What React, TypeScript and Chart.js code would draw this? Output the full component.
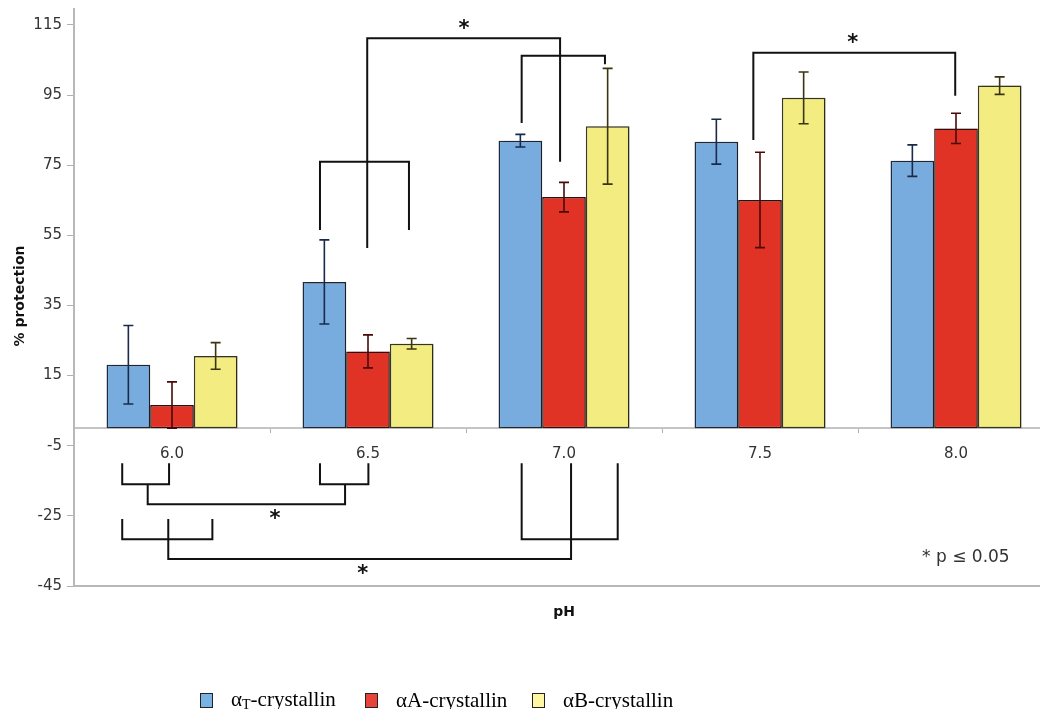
import React, { useEffect, useRef } from 'react';
import { Chart, registerables } from 'chart.js';

Chart.register(...registerables);

// ---- data ----
const categories = ['6.0', '6.5', '7.0', '7.5', '8.0'];
const seriesNames = ['αT-crystallin', 'αA-crystallin', 'αB-crystallin'];
const alphaT = [18.1, 41.7, 82.0, 81.7, 76.3];
const alphaTErr = [11.2, 12.0, 1.8, 6.4, 4.5];
const alphaA = [6.6, 21.9, 65.9, 65.1, 85.5];
const alphaAErr = [6.6, 4.7, 4.2, 13.6, 4.3];
const alphaB = [20.6, 24.1, 86.1, 94.2, 97.7];
const alphaBErr = [3.8, 1.5, 16.5, 7.4, 2.5];
const yTicks = [-45, -25, -5, 15, 35, 55, 75, 95, 115];

// significance brackets: polylines of [category position, % protection]
const brackets: [number, number][][] = [
  [[0.755, 56.5], [0.755, 76.0], [1.209, 76.0], [1.209, 56.5]],
  [[0.996, 51.4], [0.996, 111.2], [1.98, 111.2], [1.98, 76.0]],
  [[1.784, 87.0], [1.784, 106.2], [2.209, 106.2], [2.209, 103.8]],
  [[2.966, 82.2], [2.966, 107.1], [3.996, 107.1], [3.996, 94.8]],
  [[-0.254, -10.0], [-0.254, -16.0], [-0.015, -16.0], [-0.015, -10.0]],
  [[0.755, -10.0], [0.755, -16.0], [1.002, -16.0], [1.002, -10.0]],
  [[-0.124, -16.0], [-0.124, -21.7], [0.883, -21.7], [0.883, -16.0]],
  [[-0.254, -25.9], [-0.254, -31.7], [0.206, -31.7], [0.206, -25.9]],
  [[-0.019, -25.9], [-0.019, -37.3], [2.036, -37.3], [2.036, -10.0]],
  [[1.784, -10.0], [1.784, -31.7], [2.274, -31.7], [2.274, -10.0]],
];
const stars: [number, number][] = [
  [1.49, 113.7],
  [3.473, 109.6],
  [0.526, -26.1],
  [0.973, -41.6],
];
const noteText = '* p ≤ 0.05';
const notePos: [number, number] = [3.827, -37.0];

const seriesValues = [alphaT, alphaA, alphaB];
const seriesErrors = [alphaTErr, alphaAErr, alphaBErr];
const fills = ['#78acde', '#e03325', '#f3ec80'];
const borders = ['#1e2b3c', '#3a0d0a', '#3b3820'];
const errColors = ['#1a2a4a', '#4a0a0a', '#3a3510'];
const legendFills = ['#7ab2e4', '#e8433b', '#fff7a3'];

const overlay = {
  id: 'overlay',
  beforeDatasetsDraw(chart: any) {
    const { ctx, chartArea } = chart;
    ctx.save();
    ctx.strokeStyle = '#b8b8b8';
    ctx.lineWidth = 2;
    ctx.beginPath();
    ctx.moveTo(chartArea.left, chartArea.top);
    ctx.lineTo(chartArea.right, chartArea.top);
    ctx.stroke();
    ctx.restore();
    ctx.save();
    ctx.shadowColor = 'rgba(0,0,0,0.22)';
    ctx.shadowOffsetX = 3;
    ctx.shadowOffsetY = 0;
    ctx.shadowBlur = 2;
  },
  afterDatasetsDraw(chart: any) {
    const ctx = chart.ctx;
    ctx.restore();
    const xs = chart.scales.x;
    const ys = chart.scales.y;
    // error bars
    seriesValues.forEach((vals, di) => {
      const meta = chart.getDatasetMeta(di);
      const errs = seriesErrors[di];
      ctx.save();
      ctx.strokeStyle = errColors[di];
      ctx.lineWidth = 1.6;
      meta.data.forEach((bar: any, i: number) => {
        const px = bar.x;
        const top = ys.getPixelForValue(vals[i] + errs[i]);
        const bot = ys.getPixelForValue(vals[i] - errs[i]);
        ctx.beginPath();
        ctx.moveTo(px, top);
        ctx.lineTo(px, bot);
        ctx.moveTo(px - 5, top);
        ctx.lineTo(px + 5, top);
        ctx.moveTo(px - 5, bot);
        ctx.lineTo(px + 5, bot);
        ctx.stroke();
      });
      ctx.restore();
    });
    // significance brackets
    ctx.save();
    ctx.strokeStyle = '#111';
    ctx.lineWidth = 2;
    brackets.forEach((pts) => {
      ctx.beginPath();
      pts.forEach(([c, v], k) => {
        const px = xs.getPixelForValue(c);
        const py = ys.getPixelForValue(v);
        if (k === 0) ctx.moveTo(px, py);
        else ctx.lineTo(px, py);
      });
      ctx.stroke();
    });
    ctx.fillStyle = '#111';
    ctx.font = 'bold 21px "DejaVu Sans"';
    ctx.textAlign = 'center';
    ctx.textBaseline = 'middle';
    stars.forEach(([c, v]) => {
      ctx.fillText('*', xs.getPixelForValue(c), ys.getPixelForValue(v));
    });
    ctx.fillStyle = '#333';
    ctx.font = '17px "DejaVu Sans"';
    ctx.textAlign = 'left';
    ctx.fillText(noteText, xs.getPixelForValue(notePos[0]), ys.getPixelForValue(notePos[1]));
    ctx.restore();
  },
};

export default function App() {
  const ref = useRef<HTMLCanvasElement | null>(null);

  useEffect(() => {
    if (!ref.current) return;
    const chart = new Chart(ref.current, {
      type: 'bar',
      data: {
        labels: categories,
        datasets: seriesValues.map((vals, i) => ({
          label: seriesNames[i],
          data: vals,
          backgroundColor: fills[i],
          borderColor: borders[i],
          borderWidth: 1.5,
          borderSkipped: false,
          categoryPercentage: 0.668,
          barPercentage: 1,
        })),
      },
      options: {
        responsive: false,
        animation: false,
        devicePixelRatio: 1,
        events: [],
        layout: { padding: { top: 6, right: 16, bottom: 91, left: 0 } },
        plugins: {
          legend: { display: false },
          tooltip: { enabled: false },
        },
        scales: {
          x: {
            type: 'category',
            axis: 'x',
            position: { y: 0 } as any,
            offset: true,
            grid: {
              display: true,
              drawOnChartArea: false,
              drawTicks: true,
              tickLength: 4,
              color: '#b0b0b0',
              offset: true,
            },
            border: { display: true, color: '#c4c4c4', width: 2 },
            ticks: { color: '#333', font: { family: 'DejaVu Sans', size: 15 }, padding: 13 },
          },
          x2: {
            type: 'category',
            axis: 'x',
            position: 'bottom',
            labels: categories,
            offset: true,
            grid: { display: false },
            ticks: { display: false },
            border: { display: true, color: '#b8b8b8', width: 2 },
            title: {
              display: true,
              text: 'pH',
              color: '#111',
              font: { family: 'DejaVu Sans', size: 14, weight: 'bold' },
              padding: { top: 0, bottom: 5 },
            },
            afterFit: (s: any) => {
              s.height = 40;
            },
          },
          y: {
            type: 'linear',
            position: 'left',
            min: -45,
            max: 120.4,
            afterBuildTicks: (s: any) => {
              s.ticks = yTicks.map((v) => ({ value: v }));
            },
            afterFit: (s: any) => {
              s.width = 74;
              s.paddingTop = 0;
              s.paddingBottom = 0;
            },
            grid: { drawOnChartArea: false, drawTicks: true, tickLength: 7, color: '#b0b0b0' },
            border: { display: true, color: '#b8b8b8', width: 2 },
            ticks: { color: '#333', font: { family: 'DejaVu Sans', size: 15 }, padding: 5 },
            title: {
              display: true,
              text: '% protection',
              color: '#111',
              font: { family: 'DejaVu Sans', size: 14, weight: 'bold' },
              padding: { top: 12, bottom: 0 },
            },
          },
        },
      } as any,
      plugins: [overlay],
    });
    return () => chart.destroy();
  }, []);

  const legendLefts = [200, 365, 532];

  return (
    <div
      style={{
        margin: '-8px',
        width: 1048,
        height: 717,
        overflow: 'hidden',
        position: 'relative',
        background: '#fff',
      }}
    >
      <canvas ref={ref} width={1070} height={717} style={{ display: 'block' }} />
      {seriesNames.map((name, i) => (
        <div
          key={name}
          style={{
            position: 'absolute',
            left: legendLefts[i],
            top: 688,
            height: 24,
            display: 'flex',
            alignItems: 'center',
            fontFamily: '"Liberation Serif", serif',
            fontSize: 21,
            lineHeight: '24px',
            color: '#000',
            whiteSpace: 'nowrap',
          }}
        >
          <span
            style={{
              display: 'inline-block',
              width: 11,
              height: 13,
              background: legendFills[i],
              border: '1.5px solid #222',
              marginRight: 18,
            }}
          />
          <span>
            α
            {i === 0 ? (
              <>
                <span style={{ fontSize: 14, position: 'relative', top: 3 }}>T</span>-crystallin
              </>
            ) : (
              name.slice(1)
            )}
          </span>
        </div>
      ))}
    </div>
  );
}
